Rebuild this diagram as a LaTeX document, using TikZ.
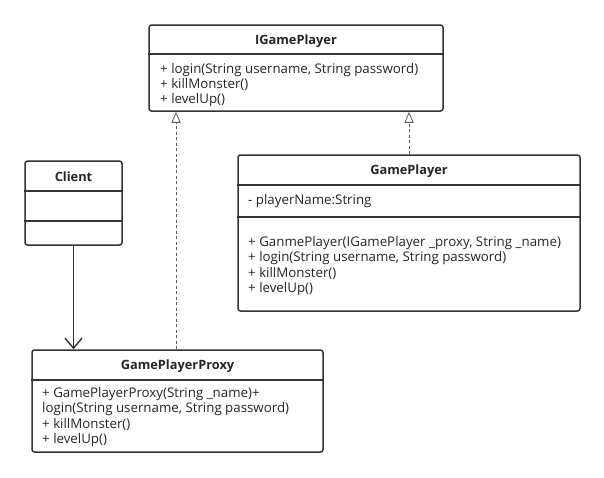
\documentclass[tikz,border=0pt]{standalone}
\usepackage{fontspec}
\setmainfont{Open Sans}
\usepackage{tikz}
\usetikzlibrary{arrows.meta,positioning,calc}
\definecolor{umlline}{HTML}{333333}
\definecolor{umltext}{HTML}{262626}
\tikzstyle{classbox}=[draw=umlline, line width=1.5pt, rounded corners=2.5pt, inner sep=0pt, fill=white]
\tikzstyle{title}=[font=\fontsize{12.8}{14}\selectfont\bfseries, text=umltext, inner sep=0pt]
\tikzstyle{member}=[anchor=west, font=\fontsize{13.3}{15}\selectfont, text=umltext, inner sep=0pt, text height=9.5pt, text depth=3pt]
\tikzstyle{divider}=[draw=umlline, line width=1.5pt]
\tikzstyle{realize}=[draw=umlline!80, line width=0.8pt, dash pattern=on 3pt off 2.5pt, -{Triangle[open, length=11pt, width=9pt]}]
\tikzstyle{assoc}=[draw=umlline, line width=1.4pt, -{Straight Barb[length=10pt, width=17pt]}]

\begin{document}
\begin{tikzpicture}[x=1pt, y=-1pt]
		\useasboundingbox[fill=white] (0,0) rectangle (604,477);
		% class boxes
		\node[classbox, minimum width=294pt, minimum height=86pt] (I) at (296,68) {};
		\node[classbox, minimum width=342pt, minimum height=156pt] (G) at (409,233) {};
		\node[classbox, minimum width=97pt, minimum height=84pt] (C) at (73.5,203) {};
		\node[classbox, minimum width=291pt, minimum height=102pt] (P) at (177.5,401) {};
		
		% IGamePlayer
		\node[title] (It) at (296,41) {IGamePlayer};
		\draw[divider] (I.west |- 0,54) -- (I.east |- 0,54);
		\node[member] (I1) at (160,70) {+ login(String username, String password)};
		\node[member] (I2) at (160,85) {+ killMonster()};
		\node[member] (I3) at (160,100) {+ levelUp()};
		
		% GamePlayer
		\node[title] (Gt) at (409,171) {GamePlayer};
		\draw[divider] (G.west |- 0,185) -- (G.east |- 0,185);
		\node[member] (G1) at (248,201) {- playerName:String};
		\draw[divider] (G.west |- 0,217) -- (G.east |- 0,217);
		\node[member] (G2) at (248,243) {+ GanmePlayer(IGamePlayer \_proxy, String \_name)};
		\node[member] (G3) at (248,258.5) {+ login(String username, String password)};
		\node[member] (G4) at (248,274) {+ killMonster()};
		\node[member] (G5) at (248,289.5) {+ levelUp()};
		
		% Client
		\node[title] (Ct) at (73.5,177) {Client};
		\draw[divider] (C.west |- 0,191) -- (C.east |- 0,191);
		\draw[divider] (C.west |- 0,221) -- (C.east |- 0,221);
		
		% GamePlayerProxy
		\node[title] (Pt) at (177.5,366) {GamePlayerProxy};
		\draw[divider] (P.west |- 0,380) -- (P.east |- 0,380);
		\node[member] (P1) at (42,394) {+ GamePlayerProxy(String \_name)+};
		\node[member] (P2) at (42,409.5) {login(String username, String password)};
		\node[member] (P3) at (42,425) {+ killMonster()};
		\node[member] (P4) at (42,440.5) {+ levelUp()};
		
		% relations
		\path ([xshift=-120pt]I.south) coordinate (ia);
		\draw[realize] (ia |- P.north) -- (ia);
		\draw[realize] (G.north) -- (G.north |- I.south);
		\draw[assoc] (C.south) -- (C.south |- P.north);
	\end{tikzpicture}
\end{document}
